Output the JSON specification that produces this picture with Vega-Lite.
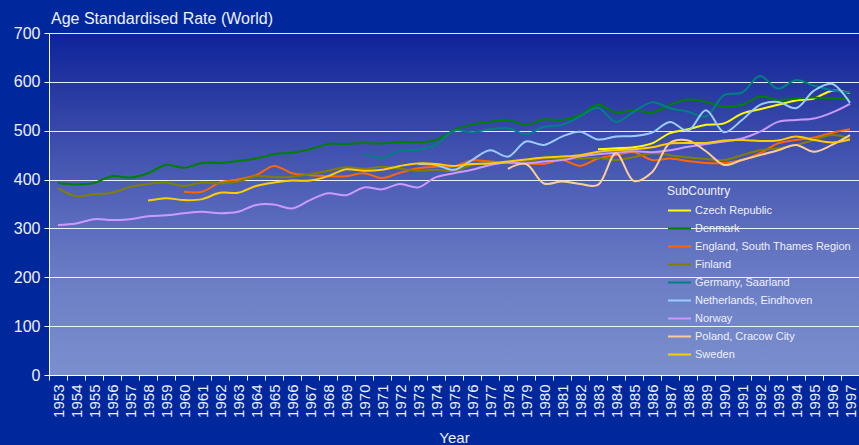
{
  "$schema": "https://vega.github.io/schema/vega-lite/v6.json",
  "width": 810,
  "height": 342,
  "autosize": {"type": "none"},
  "padding": {"left": 49, "top": 33, "right": 0, "bottom": 70},
  "background": "#00279c",
  "title": {"text": "Age Standardised Rate (World)", "anchor": "start", "frame": "group", "orient": "top", "offset": 8, "baseline": "alphabetic", "dx": 2, "dy": 23, "fontSize": 16, "fontWeight": "normal", "color": "#eef0ff", "font": "Liberation Sans"},
  "config": {
    "font": "Liberation Sans",
    "view": {
      "stroke": null,
      "fill": {"gradient": "linear", "x1": 0, "y1": 0, "x2": 0, "y2": 1,
        "stops": [
          {"offset": 0, "color": "#0c249c"},
          {"offset": 0.15, "color": "#25369f"},
          {"offset": 0.3, "color": "#3b4bab"},
          {"offset": 0.45, "color": "#4e5fb6"},
          {"offset": 0.6, "color": "#6070bf"},
          {"offset": 0.75, "color": "#6d80c6"},
          {"offset": 1, "color": "#7b8ecd"}
        ]}
    }
  },
  "data": {"values": [
    {"SubCountry":"Czech Republic","Year":1983,"Rate":462},{"SubCountry":"Czech Republic","Year":1984,"Rate":464},{"SubCountry":"Czech Republic","Year":1985,"Rate":466},{"SubCountry":"Czech Republic","Year":1986,"Rate":474},{"SubCountry":"Czech Republic","Year":1987,"Rate":495},{"SubCountry":"Czech Republic","Year":1988,"Rate":503},{"SubCountry":"Czech Republic","Year":1989,"Rate":512},{"SubCountry":"Czech Republic","Year":1990,"Rate":515},{"SubCountry":"Czech Republic","Year":1991,"Rate":535},{"SubCountry":"Czech Republic","Year":1992,"Rate":544},{"SubCountry":"Czech Republic","Year":1993,"Rate":553},{"SubCountry":"Czech Republic","Year":1994,"Rate":562},{"SubCountry":"Czech Republic","Year":1995,"Rate":566},{"SubCountry":"Czech Republic","Year":1996,"Rate":582},{"SubCountry":"Czech Republic","Year":1997,"Rate":577},

    {"SubCountry":"Denmark","Year":1953,"Rate":393},{"SubCountry":"Denmark","Year":1954,"Rate":390},{"SubCountry":"Denmark","Year":1955,"Rate":393},{"SubCountry":"Denmark","Year":1956,"Rate":407},{"SubCountry":"Denmark","Year":1957,"Rate":404},{"SubCountry":"Denmark","Year":1958,"Rate":413},{"SubCountry":"Denmark","Year":1959,"Rate":430},{"SubCountry":"Denmark","Year":1960,"Rate":424},{"SubCountry":"Denmark","Year":1961,"Rate":434},{"SubCountry":"Denmark","Year":1962,"Rate":434},{"SubCountry":"Denmark","Year":1963,"Rate":438},{"SubCountry":"Denmark","Year":1964,"Rate":443},{"SubCountry":"Denmark","Year":1965,"Rate":452},{"SubCountry":"Denmark","Year":1966,"Rate":455},{"SubCountry":"Denmark","Year":1967,"Rate":462},{"SubCountry":"Denmark","Year":1968,"Rate":473},{"SubCountry":"Denmark","Year":1969,"Rate":473},{"SubCountry":"Denmark","Year":1970,"Rate":475},{"SubCountry":"Denmark","Year":1971,"Rate":474},{"SubCountry":"Denmark","Year":1972,"Rate":477},{"SubCountry":"Denmark","Year":1973,"Rate":476},{"SubCountry":"Denmark","Year":1974,"Rate":481},{"SubCountry":"Denmark","Year":1975,"Rate":501},{"SubCountry":"Denmark","Year":1976,"Rate":513},{"SubCountry":"Denmark","Year":1977,"Rate":518},{"SubCountry":"Denmark","Year":1978,"Rate":522},{"SubCountry":"Denmark","Year":1979,"Rate":512},{"SubCountry":"Denmark","Year":1980,"Rate":523},{"SubCountry":"Denmark","Year":1981,"Rate":522},{"SubCountry":"Denmark","Year":1982,"Rate":532},{"SubCountry":"Denmark","Year":1983,"Rate":553},{"SubCountry":"Denmark","Year":1984,"Rate":537},{"SubCountry":"Denmark","Year":1985,"Rate":542},{"SubCountry":"Denmark","Year":1986,"Rate":537},{"SubCountry":"Denmark","Year":1987,"Rate":553},{"SubCountry":"Denmark","Year":1988,"Rate":564},{"SubCountry":"Denmark","Year":1989,"Rate":559},{"SubCountry":"Denmark","Year":1990,"Rate":549},{"SubCountry":"Denmark","Year":1991,"Rate":553},{"SubCountry":"Denmark","Year":1992,"Rate":570},{"SubCountry":"Denmark","Year":1993,"Rate":563},{"SubCountry":"Denmark","Year":1994,"Rate":566},{"SubCountry":"Denmark","Year":1995,"Rate":568},{"SubCountry":"Denmark","Year":1996,"Rate":566},{"SubCountry":"Denmark","Year":1997,"Rate":565},

    {"SubCountry":"England, South Thames Region","Year":1960,"Rate":375},{"SubCountry":"England, South Thames Region","Year":1961,"Rate":375},{"SubCountry":"England, South Thames Region","Year":1962,"Rate":394},{"SubCountry":"England, South Thames Region","Year":1963,"Rate":400},{"SubCountry":"England, South Thames Region","Year":1964,"Rate":409},{"SubCountry":"England, South Thames Region","Year":1965,"Rate":428},{"SubCountry":"England, South Thames Region","Year":1966,"Rate":413},{"SubCountry":"England, South Thames Region","Year":1967,"Rate":409},{"SubCountry":"England, South Thames Region","Year":1968,"Rate":407},{"SubCountry":"England, South Thames Region","Year":1969,"Rate":407},{"SubCountry":"England, South Thames Region","Year":1970,"Rate":413},{"SubCountry":"England, South Thames Region","Year":1971,"Rate":403},{"SubCountry":"England, South Thames Region","Year":1972,"Rate":414},{"SubCountry":"England, South Thames Region","Year":1973,"Rate":423},{"SubCountry":"England, South Thames Region","Year":1974,"Rate":426},{"SubCountry":"England, South Thames Region","Year":1975,"Rate":427},{"SubCountry":"England, South Thames Region","Year":1976,"Rate":439},{"SubCountry":"England, South Thames Region","Year":1977,"Rate":437},{"SubCountry":"England, South Thames Region","Year":1978,"Rate":434},{"SubCountry":"England, South Thames Region","Year":1979,"Rate":433},{"SubCountry":"England, South Thames Region","Year":1980,"Rate":432},{"SubCountry":"England, South Thames Region","Year":1981,"Rate":440},{"SubCountry":"England, South Thames Region","Year":1982,"Rate":428},{"SubCountry":"England, South Thames Region","Year":1983,"Rate":443},{"SubCountry":"England, South Thames Region","Year":1984,"Rate":450},{"SubCountry":"England, South Thames Region","Year":1985,"Rate":456},{"SubCountry":"England, South Thames Region","Year":1986,"Rate":440},{"SubCountry":"England, South Thames Region","Year":1987,"Rate":443},{"SubCountry":"England, South Thames Region","Year":1988,"Rate":438},{"SubCountry":"England, South Thames Region","Year":1989,"Rate":434},{"SubCountry":"England, South Thames Region","Year":1990,"Rate":434},{"SubCountry":"England, South Thames Region","Year":1991,"Rate":440},{"SubCountry":"England, South Thames Region","Year":1992,"Rate":454},{"SubCountry":"England, South Thames Region","Year":1993,"Rate":474},{"SubCountry":"England, South Thames Region","Year":1994,"Rate":481},{"SubCountry":"England, South Thames Region","Year":1995,"Rate":486},{"SubCountry":"England, South Thames Region","Year":1996,"Rate":496},{"SubCountry":"England, South Thames Region","Year":1997,"Rate":503},

    {"SubCountry":"Finland","Year":1953,"Rate":382},{"SubCountry":"Finland","Year":1954,"Rate":366},{"SubCountry":"Finland","Year":1955,"Rate":370},{"SubCountry":"Finland","Year":1956,"Rate":373},{"SubCountry":"Finland","Year":1957,"Rate":385},{"SubCountry":"Finland","Year":1958,"Rate":391},{"SubCountry":"Finland","Year":1959,"Rate":394},{"SubCountry":"Finland","Year":1960,"Rate":387},{"SubCountry":"Finland","Year":1961,"Rate":394},{"SubCountry":"Finland","Year":1962,"Rate":392},{"SubCountry":"Finland","Year":1963,"Rate":396},{"SubCountry":"Finland","Year":1964,"Rate":407},{"SubCountry":"Finland","Year":1965,"Rate":405},{"SubCountry":"Finland","Year":1966,"Rate":406},{"SubCountry":"Finland","Year":1967,"Rate":411},{"SubCountry":"Finland","Year":1968,"Rate":418},{"SubCountry":"Finland","Year":1969,"Rate":425},{"SubCountry":"Finland","Year":1970,"Rate":422},{"SubCountry":"Finland","Year":1971,"Rate":426},{"SubCountry":"Finland","Year":1972,"Rate":422},{"SubCountry":"Finland","Year":1973,"Rate":418},{"SubCountry":"Finland","Year":1974,"Rate":420},{"SubCountry":"Finland","Year":1975,"Rate":418},{"SubCountry":"Finland","Year":1976,"Rate":430},{"SubCountry":"Finland","Year":1977,"Rate":434},{"SubCountry":"Finland","Year":1978,"Rate":435},{"SubCountry":"Finland","Year":1979,"Rate":437},{"SubCountry":"Finland","Year":1980,"Rate":443},{"SubCountry":"Finland","Year":1981,"Rate":443},{"SubCountry":"Finland","Year":1982,"Rate":443},{"SubCountry":"Finland","Year":1983,"Rate":444},{"SubCountry":"Finland","Year":1984,"Rate":440},{"SubCountry":"Finland","Year":1985,"Rate":446},{"SubCountry":"Finland","Year":1986,"Rate":454},{"SubCountry":"Finland","Year":1987,"Rate":450},{"SubCountry":"Finland","Year":1988,"Rate":445},{"SubCountry":"Finland","Year":1989,"Rate":442},{"SubCountry":"Finland","Year":1990,"Rate":440},{"SubCountry":"Finland","Year":1991,"Rate":450},{"SubCountry":"Finland","Year":1992,"Rate":460},{"SubCountry":"Finland","Year":1993,"Rate":464},{"SubCountry":"Finland","Year":1994,"Rate":471},{"SubCountry":"Finland","Year":1995,"Rate":481},{"SubCountry":"Finland","Year":1996,"Rate":491},{"SubCountry":"Finland","Year":1997,"Rate":484},

    {"SubCountry":"Germany, Saarland","Year":1970,"Rate":452},{"SubCountry":"Germany, Saarland","Year":1971,"Rate":445},{"SubCountry":"Germany, Saarland","Year":1972,"Rate":459},{"SubCountry":"Germany, Saarland","Year":1973,"Rate":461},{"SubCountry":"Germany, Saarland","Year":1974,"Rate":471},{"SubCountry":"Germany, Saarland","Year":1975,"Rate":500},{"SubCountry":"Germany, Saarland","Year":1976,"Rate":497},{"SubCountry":"Germany, Saarland","Year":1977,"Rate":503},{"SubCountry":"Germany, Saarland","Year":1978,"Rate":505},{"SubCountry":"Germany, Saarland","Year":1979,"Rate":493},{"SubCountry":"Germany, Saarland","Year":1980,"Rate":508},{"SubCountry":"Germany, Saarland","Year":1981,"Rate":512},{"SubCountry":"Germany, Saarland","Year":1982,"Rate":529},{"SubCountry":"Germany, Saarland","Year":1983,"Rate":547},{"SubCountry":"Germany, Saarland","Year":1984,"Rate":518},{"SubCountry":"Germany, Saarland","Year":1985,"Rate":539},{"SubCountry":"Germany, Saarland","Year":1986,"Rate":558},{"SubCountry":"Germany, Saarland","Year":1987,"Rate":546},{"SubCountry":"Germany, Saarland","Year":1988,"Rate":539},{"SubCountry":"Germany, Saarland","Year":1989,"Rate":529},{"SubCountry":"Germany, Saarland","Year":1990,"Rate":573},{"SubCountry":"Germany, Saarland","Year":1991,"Rate":578},{"SubCountry":"Germany, Saarland","Year":1992,"Rate":612},{"SubCountry":"Germany, Saarland","Year":1993,"Rate":586},{"SubCountry":"Germany, Saarland","Year":1994,"Rate":604},{"SubCountry":"Germany, Saarland","Year":1995,"Rate":592},{"SubCountry":"Germany, Saarland","Year":1996,"Rate":583},{"SubCountry":"Germany, Saarland","Year":1997,"Rate":578},

    {"SubCountry":"Netherlands, Eindhoven","Year":1973,"Rate":432},{"SubCountry":"Netherlands, Eindhoven","Year":1974,"Rate":430},{"SubCountry":"Netherlands, Eindhoven","Year":1975,"Rate":420},{"SubCountry":"Netherlands, Eindhoven","Year":1976,"Rate":440},{"SubCountry":"Netherlands, Eindhoven","Year":1977,"Rate":460},{"SubCountry":"Netherlands, Eindhoven","Year":1978,"Rate":447},{"SubCountry":"Netherlands, Eindhoven","Year":1979,"Rate":478},{"SubCountry":"Netherlands, Eindhoven","Year":1980,"Rate":471},{"SubCountry":"Netherlands, Eindhoven","Year":1981,"Rate":488},{"SubCountry":"Netherlands, Eindhoven","Year":1982,"Rate":498},{"SubCountry":"Netherlands, Eindhoven","Year":1983,"Rate":482},{"SubCountry":"Netherlands, Eindhoven","Year":1984,"Rate":488},{"SubCountry":"Netherlands, Eindhoven","Year":1985,"Rate":489},{"SubCountry":"Netherlands, Eindhoven","Year":1986,"Rate":496},{"SubCountry":"Netherlands, Eindhoven","Year":1987,"Rate":518},{"SubCountry":"Netherlands, Eindhoven","Year":1988,"Rate":500},{"SubCountry":"Netherlands, Eindhoven","Year":1989,"Rate":542},{"SubCountry":"Netherlands, Eindhoven","Year":1990,"Rate":497},{"SubCountry":"Netherlands, Eindhoven","Year":1991,"Rate":522},{"SubCountry":"Netherlands, Eindhoven","Year":1992,"Rate":553},{"SubCountry":"Netherlands, Eindhoven","Year":1993,"Rate":559},{"SubCountry":"Netherlands, Eindhoven","Year":1994,"Rate":546},{"SubCountry":"Netherlands, Eindhoven","Year":1995,"Rate":582},{"SubCountry":"Netherlands, Eindhoven","Year":1996,"Rate":596},{"SubCountry":"Netherlands, Eindhoven","Year":1997,"Rate":557},

    {"SubCountry":"Norway","Year":1953,"Rate":307},{"SubCountry":"Norway","Year":1954,"Rate":310},{"SubCountry":"Norway","Year":1955,"Rate":319},{"SubCountry":"Norway","Year":1956,"Rate":317},{"SubCountry":"Norway","Year":1957,"Rate":319},{"SubCountry":"Norway","Year":1958,"Rate":325},{"SubCountry":"Norway","Year":1959,"Rate":327},{"SubCountry":"Norway","Year":1960,"Rate":331},{"SubCountry":"Norway","Year":1961,"Rate":334},{"SubCountry":"Norway","Year":1962,"Rate":331},{"SubCountry":"Norway","Year":1963,"Rate":334},{"SubCountry":"Norway","Year":1964,"Rate":348},{"SubCountry":"Norway","Year":1965,"Rate":349},{"SubCountry":"Norway","Year":1966,"Rate":341},{"SubCountry":"Norway","Year":1967,"Rate":358},{"SubCountry":"Norway","Year":1968,"Rate":372},{"SubCountry":"Norway","Year":1969,"Rate":368},{"SubCountry":"Norway","Year":1970,"Rate":384},{"SubCountry":"Norway","Year":1971,"Rate":380},{"SubCountry":"Norway","Year":1972,"Rate":391},{"SubCountry":"Norway","Year":1973,"Rate":384},{"SubCountry":"Norway","Year":1974,"Rate":405},{"SubCountry":"Norway","Year":1975,"Rate":413},{"SubCountry":"Norway","Year":1976,"Rate":420},{"SubCountry":"Norway","Year":1977,"Rate":430},{"SubCountry":"Norway","Year":1978,"Rate":435},{"SubCountry":"Norway","Year":1979,"Rate":433},{"SubCountry":"Norway","Year":1980,"Rate":437},{"SubCountry":"Norway","Year":1981,"Rate":440},{"SubCountry":"Norway","Year":1982,"Rate":447},{"SubCountry":"Norway","Year":1983,"Rate":452},{"SubCountry":"Norway","Year":1984,"Rate":455},{"SubCountry":"Norway","Year":1985,"Rate":458},{"SubCountry":"Norway","Year":1986,"Rate":456},{"SubCountry":"Norway","Year":1987,"Rate":460},{"SubCountry":"Norway","Year":1988,"Rate":467},{"SubCountry":"Norway","Year":1989,"Rate":473},{"SubCountry":"Norway","Year":1990,"Rate":478},{"SubCountry":"Norway","Year":1991,"Rate":484},{"SubCountry":"Norway","Year":1992,"Rate":498},{"SubCountry":"Norway","Year":1993,"Rate":518},{"SubCountry":"Norway","Year":1994,"Rate":522},{"SubCountry":"Norway","Year":1995,"Rate":525},{"SubCountry":"Norway","Year":1996,"Rate":537},{"SubCountry":"Norway","Year":1997,"Rate":555},

    {"SubCountry":"Poland, Cracow City","Year":1978,"Rate":422},{"SubCountry":"Poland, Cracow City","Year":1979,"Rate":432},{"SubCountry":"Poland, Cracow City","Year":1980,"Rate":392},{"SubCountry":"Poland, Cracow City","Year":1981,"Rate":396},{"SubCountry":"Poland, Cracow City","Year":1982,"Rate":391},{"SubCountry":"Poland, Cracow City","Year":1983,"Rate":389},{"SubCountry":"Poland, Cracow City","Year":1984,"Rate":454},{"SubCountry":"Poland, Cracow City","Year":1985,"Rate":397},{"SubCountry":"Poland, Cracow City","Year":1986,"Rate":415},{"SubCountry":"Poland, Cracow City","Year":1987,"Rate":475},{"SubCountry":"Poland, Cracow City","Year":1988,"Rate":480},{"SubCountry":"Poland, Cracow City","Year":1989,"Rate":458},{"SubCountry":"Poland, Cracow City","Year":1990,"Rate":430},{"SubCountry":"Poland, Cracow City","Year":1991,"Rate":440},{"SubCountry":"Poland, Cracow City","Year":1992,"Rate":450},{"SubCountry":"Poland, Cracow City","Year":1993,"Rate":460},{"SubCountry":"Poland, Cracow City","Year":1994,"Rate":471},{"SubCountry":"Poland, Cracow City","Year":1995,"Rate":457},{"SubCountry":"Poland, Cracow City","Year":1996,"Rate":471},{"SubCountry":"Poland, Cracow City","Year":1997,"Rate":491},

    {"SubCountry":"Sweden","Year":1958,"Rate":357},{"SubCountry":"Sweden","Year":1959,"Rate":362},{"SubCountry":"Sweden","Year":1960,"Rate":358},{"SubCountry":"Sweden","Year":1961,"Rate":360},{"SubCountry":"Sweden","Year":1962,"Rate":373},{"SubCountry":"Sweden","Year":1963,"Rate":373},{"SubCountry":"Sweden","Year":1964,"Rate":387},{"SubCountry":"Sweden","Year":1965,"Rate":394},{"SubCountry":"Sweden","Year":1966,"Rate":398},{"SubCountry":"Sweden","Year":1967,"Rate":398},{"SubCountry":"Sweden","Year":1968,"Rate":407},{"SubCountry":"Sweden","Year":1969,"Rate":421},{"SubCountry":"Sweden","Year":1970,"Rate":418},{"SubCountry":"Sweden","Year":1971,"Rate":420},{"SubCountry":"Sweden","Year":1972,"Rate":428},{"SubCountry":"Sweden","Year":1973,"Rate":433},{"SubCountry":"Sweden","Year":1974,"Rate":432},{"SubCountry":"Sweden","Year":1975,"Rate":428},{"SubCountry":"Sweden","Year":1976,"Rate":432},{"SubCountry":"Sweden","Year":1977,"Rate":433},{"SubCountry":"Sweden","Year":1978,"Rate":437},{"SubCountry":"Sweden","Year":1979,"Rate":441},{"SubCountry":"Sweden","Year":1980,"Rate":445},{"SubCountry":"Sweden","Year":1981,"Rate":447},{"SubCountry":"Sweden","Year":1982,"Rate":450},{"SubCountry":"Sweden","Year":1983,"Rate":457},{"SubCountry":"Sweden","Year":1984,"Rate":460},{"SubCountry":"Sweden","Year":1985,"Rate":462},{"SubCountry":"Sweden","Year":1986,"Rate":466},{"SubCountry":"Sweden","Year":1987,"Rate":474},{"SubCountry":"Sweden","Year":1988,"Rate":475},{"SubCountry":"Sweden","Year":1989,"Rate":475},{"SubCountry":"Sweden","Year":1990,"Rate":480},{"SubCountry":"Sweden","Year":1991,"Rate":481},{"SubCountry":"Sweden","Year":1992,"Rate":479},{"SubCountry":"Sweden","Year":1993,"Rate":480},{"SubCountry":"Sweden","Year":1994,"Rate":488},{"SubCountry":"Sweden","Year":1995,"Rate":481},{"SubCountry":"Sweden","Year":1996,"Rate":476},{"SubCountry":"Sweden","Year":1997,"Rate":482}
  ]},
  "mark": {"type": "line", "interpolate": "catmull-rom", "strokeWidth": 2},
  "encoding": {
    "x": {
      "field": "Year", "type": "ordinal",
      "scale": {"type": "band", "paddingInner": 0, "paddingOuter": 0},
      "axis": {
        "title": "Year", "titleFont": "Liberation Sans", "titleFontSize": 15, "titleFontWeight": "normal", "titleColor": "#eef0ff", "titlePadding": 13,
        "labelAngle": 270, "labelFont": "Liberation Sans", "labelFontSize": 15, "labelColor": "#eef0ff", "labelPadding": 4,
        "tickBand": "extent", "tickSize": 5, "tickColor": "#ffffff", "domainColor": "#ffffff", "grid": false
      }
    },
    "y": {
      "field": "Rate", "type": "quantitative",
      "scale": {"domain": [0, 700], "nice": false},
      "axis": {
        "values": [0, 100, 200, 300, 400, 500, 600, 700],
        "title": null,
        "labelFont": "Liberation Sans", "labelFontSize": 16, "labelColor": "#eef0ff", "labelPadding": 4,
        "tickSize": 5, "tickColor": "#ffffff", "domainColor": "#ffffff",
        "grid": true, "gridColor": "#ffffff", "gridOpacity": 0.9, "gridWidth": 1
      }
    },
    "color": {
      "field": "SubCountry", "type": "nominal",
      "scale": {
        "domain": ["Czech Republic", "Denmark", "England, South Thames Region", "Finland", "Germany, Saarland", "Netherlands, Eindhoven", "Norway", "Poland, Cracow City", "Sweden"],
        "range": ["#ffff00", "#008000", "#ff6600", "#808000", "#008080", "#99ccff", "#cc99ff", "#ffcc99", "#ffcc00"]
      },
      "legend": {
        "orient": "none", "legendX": 613, "legendY": 148, "padding": 5,
        "title": "SubCountry", "titleFont": "Liberation Sans", "titleFontSize": 12, "titleFontWeight": "normal", "titleColor": "#eef0ff", "titlePadding": 0,
        "labelFont": "Liberation Sans", "labelFontSize": 11, "labelColor": "#eef0ff", "labelOffset": 3, "labelLimit": 300,
        "symbolType": "stroke", "symbolSize": 529, "symbolStrokeWidth": 2, "rowPadding": -2.8
      }
    }
  }
}
